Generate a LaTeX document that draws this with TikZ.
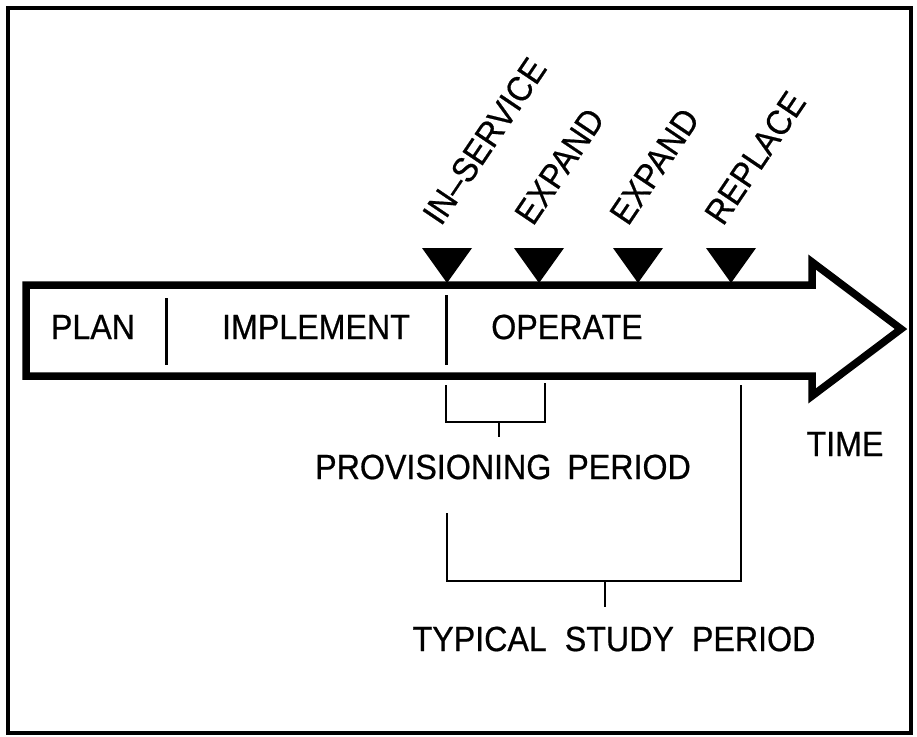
\documentclass[tikz,border=0pt]{standalone}
\usepackage{fontspec}
\setmainfont{Liberation Sans}[FakeStretch=0.92,FakeBold=0.6]
\begin{document}
\begin{tikzpicture}[x=1pt,y=-1pt,
  lbl/.style={font=\fontsize{35}{38}\selectfont, inner sep=0pt},
  evlbl/.style={font=\fontsize{35}{38}\selectfont, inner sep=0pt, rotate=56, anchor=base west},
  frameline/.style={line width=3.5pt},
  arrowline/.style={line width=7.5pt, line join=miter},
  divline/.style={line width=3pt},
  brline/.style={line width=2.5pt, line join=miter},
  marker/.style={fill=black}]
\useasboundingbox (0,0) rectangle (917,736);
% frame
\draw[frameline] (8,8) rectangle (911,733);
% big arrow
\coordinate (a1) at (26,285);
\coordinate (a2) at (812,285);
\coordinate (a3) at (812,262);
\coordinate (a4) at (901,329);
\coordinate (a5) at (812,396);
\coordinate (a6) at (812,376);
\coordinate (a7) at (26,376);
\draw[arrowline] (a1) -- (a2) -- (a3) -- (a4) -- (a5) -- (a6) -- (a7) -- cycle;
% dividers
\coordinate (d1t) at (166,298);
\coordinate (d1b) at (166,365);
\coordinate (d2t) at (446,295);
\coordinate (d2b) at (446,365);
\draw[divline] (d1t) -- (d1b);
\draw[divline] (d2t) -- (d2b);
% phase labels
\node[lbl] (plan) at (93,327) {PLAN};
\node[lbl] (impl) at (316,327) {IMPLEMENT};
\node[lbl] (oper) at (567,327) {OPERATE};
\node[lbl] (time) at (845,444) {TIME};
% markers
\coordinate (m1) at (447,283);
\coordinate (m2) at (539,283);
\coordinate (m3) at (638,283);
\coordinate (m4) at (731,283);
\foreach \m in {m1,m2,m3,m4}{
  \fill[marker] (\m) -- ++(-25,-35) -- ++(50,0) -- cycle;
}
% event labels
\node[evlbl] (ev1) at (441,227) {IN–SERVICE};
\node[evlbl] (ev2) at (533,227) {EXPAND};
\node[evlbl] (ev3) at (628,227) {EXPAND};
\node[evlbl] (ev4) at (723,227) {REPLACE};
% provisioning bracket
\coordinate (p1) at (446,385);
\coordinate (p2) at (446,422);
\coordinate (p3) at (545,422);
\coordinate (p4) at (545,383);
\coordinate (ps) at (499,422);
\coordinate (pe) at (499,437);
\draw[brline] (p1) -- (p2) -- (p3) -- (p4);
\draw[brline] (ps) -- (pe);
\node[lbl] (prov) at (503,467) {PROVISIONING\hspace{16pt}PERIOD};
% study bracket
\coordinate (s1) at (447,513);
\coordinate (s2) at (447,581);
\coordinate (s3) at (741,581);
\coordinate (s4) at (741,385);
\coordinate (ss) at (605,581);
\coordinate (se) at (605,607);
\draw[brline] (s1) -- (s2) -- (s3) -- (s4);
\draw[brline] (ss) -- (se);
\node[lbl] (study) at (614,639) {TYPICAL\hspace{18pt}STUDY\hspace{18pt}PERIOD};
\end{tikzpicture}
\end{document}
